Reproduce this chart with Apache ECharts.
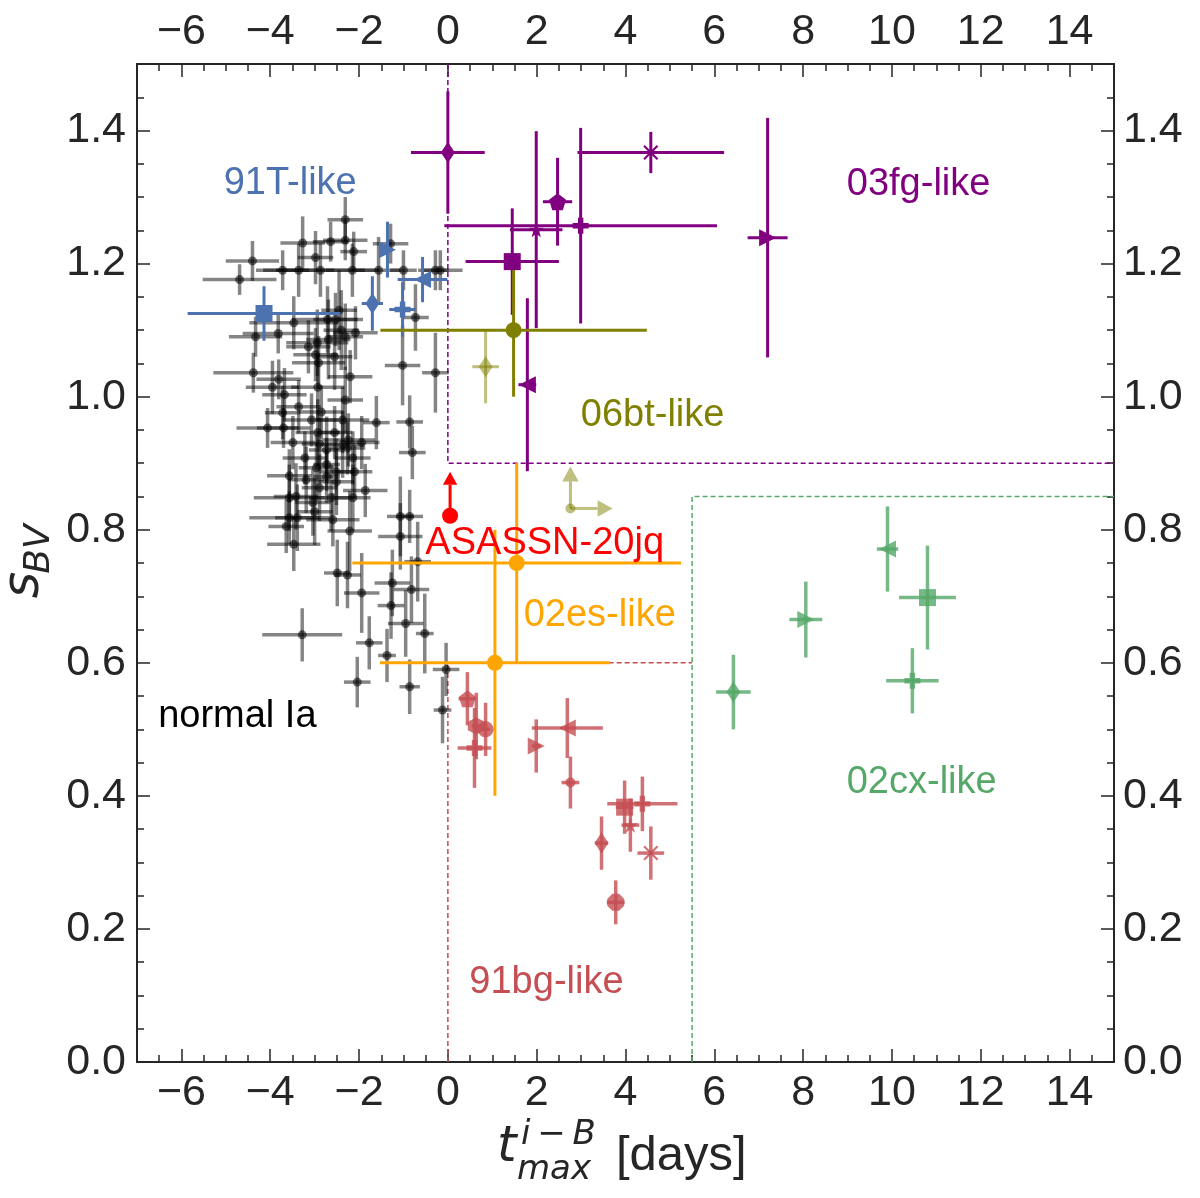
<!DOCTYPE html>
<html>
<head>
<meta charset="utf-8">
<script src="https://cdn.jsdelivr.net/npm/echarts@6/dist/echarts.min.js"></script>
<style>
html, body { margin: 0; padding: 0; background: #fff; }
#chart { width: 1200px; height: 1198px; }
</style>
</head>
<body>
<div id="chart"></div>
<script>
// each row: [t_max^{i-B}, s_BV, err_t, err_s]
var normalIa = [
  [-2.31, 1.266, 0.40, 0.034], [-2.64, 1.233, 0.40, 0.030], [-2.31, 1.235, 0.50, 0.030],
  [-3.27, 1.231, 0.50, 0.040], [-2.12, 1.218, 0.30, 0.030], [-2.98, 1.209, 0.40, 0.040],
  [-4.40, 1.204, 0.60, 0.030], [-3.72, 1.190, 0.60, 0.030], [-3.36, 1.190, 0.80, 0.040],
  [-2.87, 1.190, 1.00, 0.040], [-2.15, 1.190, 0.60, 0.040], [-1.56, 1.190, 0.50, 0.050],
  [-1.00, 1.190, 0.30, 0.030], [-0.28, 1.190, 0.30, 0.030], [-0.17, 1.190, 0.50, 0.030],
  [-4.69, 1.176, 0.83, 0.023], [-1.29, 1.230, 0.40, 0.030], [-0.73, 1.119, 0.30, 0.050],
  [-4.33, 1.090, 0.60, 0.030], [-3.82, 1.095, 0.80, 0.030], [-3.47, 1.111, 1.00, 0.040],
  [-2.71, 1.116, 0.80, 0.050], [-2.53, 1.116, 0.50, 0.040], [-2.45, 1.130, 0.40, 0.060],
  [-2.40, 1.100, 0.40, 0.060], [-2.08, 1.096, 0.50, 0.040], [-3.14, 1.075, 0.50, 0.040],
  [-2.94, 1.081, 0.70, 0.050], [-2.69, 1.086, 0.50, 0.060], [-2.31, 1.090, 0.40, 0.050],
  [-2.55, 1.060, 0.40, 0.050], [-2.98, 1.063, 0.50, 0.040], [-2.91, 1.051, 0.60, 0.040],
  [-4.38, 1.036, 0.90, 0.030], [-2.20, 1.030, 0.50, 0.040], [-1.02, 1.047, 0.40, 0.060],
  [-0.28, 1.036, 0.30, 0.060], [-3.81, 1.026, 0.50, 0.030], [-2.93, 1.014, 0.60, 0.050],
  [-3.95, 1.014, 0.60, 0.040], [-3.68, 1.003, 0.50, 0.040], [-2.31, 0.995, 0.40, 0.050],
  [-3.36, 0.985, 0.50, 0.040], [-2.85, 0.977, 0.50, 0.040], [-3.72, 0.976, 0.40, 0.040],
  [-4.06, 0.953, 0.70, 0.030], [-3.70, 0.953, 0.60, 0.030], [-3.07, 0.965, 0.60, 0.040],
  [-2.37, 0.965, 0.60, 0.050], [-1.61, 0.961, 0.30, 0.040], [-0.86, 0.962, 0.30, 0.040],
  [-2.93, 0.946, 0.50, 0.050], [-2.55, 0.946, 0.40, 0.040], [-3.49, 0.931, 0.50, 0.040],
  [-2.89, 0.929, 0.40, 0.040], [-2.37, 0.928, 0.50, 0.050], [-2.24, 0.935, 0.60, 0.040],
  [-1.94, 0.931, 0.40, 0.040], [-2.26, 0.923, 0.40, 0.040], [-2.73, 0.920, 0.40, 0.050],
  [-0.80, 0.916, 0.30, 0.040], [-3.22, 0.908, 0.50, 0.040], [-2.14, 0.908, 0.40, 0.040],
  [-2.96, 0.893, 0.40, 0.050], [-2.73, 0.898, 0.30, 0.040], [-2.51, 0.887, 0.40, 0.050],
  [-2.10, 0.887, 0.40, 0.040], [-3.57, 0.881, 0.50, 0.040], [-2.73, 0.880, 0.30, 0.040],
  [-3.19, 0.875, 0.40, 0.050], [-2.51, 0.872, 0.40, 0.050], [-1.86, 0.859, 0.50, 0.040],
  [-2.89, 0.863, 0.40, 0.050], [-3.57, 0.848, 0.80, 0.050], [-3.42, 0.850, 0.50, 0.050],
  [-2.63, 0.848, 0.50, 0.050], [-2.14, 0.848, 0.40, 0.050], [-3.04, 0.841, 0.40, 0.050],
  [-3.00, 0.827, 0.40, 0.050], [-3.57, 0.818, 0.90, 0.040], [-3.39, 0.818, 0.50, 0.050],
  [-2.59, 0.815, 0.60, 0.040], [-3.64, 0.805, 0.40, 0.040], [-2.21, 0.798, 0.50, 0.060],
  [-1.07, 0.820, 0.30, 0.060], [-1.07, 0.790, 0.50, 0.050], [-0.86, 0.820, 0.30, 0.040],
  [-3.47, 0.778, 0.60, 0.040], [-2.49, 0.735, 0.30, 0.050], [-2.26, 0.732, 0.30, 0.050],
  [-0.68, 0.752, 0.30, 0.060], [-1.94, 0.705, 0.40, 0.060], [-1.25, 0.720, 0.40, 0.050],
  [-0.82, 0.710, 0.40, 0.050], [-1.28, 0.686, 0.30, 0.050], [-0.95, 0.659, 0.40, 0.050],
  [-0.52, 0.644, 0.20, 0.060], [-3.28, 0.642, 0.90, 0.040], [-1.77, 0.630, 0.30, 0.040],
  [-1.37, 0.611, 0.20, 0.040], [-2.04, 0.571, 0.30, 0.038], [-0.86, 0.564, 0.23, 0.041],
  [-0.04, 0.590, 0.30, 0.040], [-0.12, 0.529, 0.20, 0.050]
];

var like91T = [
  [-4.14, 1.125, 1.72, 0.041], [-1.70, 1.140, 0.24, 0.041], [-1.02, 1.131, 0.30, 0.041],
  [-0.57, 1.176, 0.56, 0.034], [-1.36, 1.221, 0.10, 0.042]
];
var marks91T = ['s', 'd', 'P', '<', '>'];

var like03fg = [
  [0.00, 1.367, 0.83, 0.092], [4.57, 1.367, 1.65, 0.031], [2.47, 1.293, 0.33, 0.066],
  [2.99, 1.257, 3.07, 0.147], [1.99, 1.251, 0.59, 0.148], [1.45, 1.203, 1.05, 0.080],
  [7.20, 1.239, 0.45, 0.180], [1.79, 1.018, 0.20, 0.130]
];
var marks03fg = ['d', 'X', 'p', 'P', '*', 's', '>', '<'];

var like06bt = [[1.48, 1.100, 3.00, 0.100]];
var like06btFaint = [[0.85, 1.045, 0.30, 0.055]];
var limit06bt = [[2.76, 0.832]];

var like02es = [[1.55, 0.750, 3.70, 0.150], [1.06, 0.600, 2.59, 0.200]];

var asassn20jq = [[0.05, 0.821]];

var like91bg = [
  [0.44, 0.546, 0.20, 0.040], [0.64, 0.505, 0.10, 0.050], [0.60, 0.472, 0.38, 0.060],
  [0.85, 0.500, 0.10, 0.040], [1.99, 0.475, 0.10, 0.040], [2.69, 0.502, 0.80, 0.045],
  [2.76, 0.420, 0.20, 0.039], [3.46, 0.329, 0.15, 0.040], [3.98, 0.383, 0.20, 0.040],
  [4.38, 0.388, 0.79, 0.041], [4.11, 0.356, 0.20, 0.040], [4.57, 0.314, 0.30, 0.040],
  [3.78, 0.240, 0.20, 0.033]
];
var marks91bg = ['p', 'h', 'P', 'o', '>', '<', '.', 'd', 's', 'P', '*', 'X', '8'];

var like02cx = [
  [6.43, 0.556, 0.39, 0.056], [8.06, 0.665, 0.37, 0.057], [9.90, 0.771, 0.24, 0.064],
  [10.80, 0.698, 0.64, 0.078], [10.46, 0.573, 0.59, 0.049]
];
var marks02cx = ['d', '>', '<', 's', 'P'];

// region boundaries
var box03fg = [[0, 1.5], [0, 0.9], [15, 0.9]];
var box91bg = [[0, 0], [0, 0.6], [5.5, 0.6]];
var box02cx = [[5.5, 0], [5.5, 0.85], [15, 0.85]];

var xTicks = [-6, -4, -2, 0, 2, 4, 6, 8, 10, 12, 14];
var yTicks = [0, 0.2, 0.4, 0.6, 0.8, 1.0, 1.2, 1.4];

var annotations = [
  ['91T-like', -3.55, 1.320, '#4c72b0'],
  ['03fg-like', 10.60, 1.319, '#800080'],
  ['06bt-like', 4.61, 0.971, '#808000'],
  ['ASASSN-20jq', 2.18, 0.779, '#ff0000'],
  ['02es-like', 3.42, 0.671, '#ffa500'],
  ['normal Ia', -4.74, 0.520, '#000000'],
  ['02cx-like', 10.67, 0.420, '#55a868'],
  ['91bg-like', 2.22, 0.119, '#c44e52']
];

var FONT = '"Liberation Sans", Arial, sans-serif';
var INK = '#262626';

var SYM = {
  'o': 'circle',
  '.': 'circle',
  's': 'rect',
  'd': 'path://M5,0L8.5,5L5,10L1.5,5Z',
  '<': 'path://M0,5L10,0L10,10Z',
  '>': 'path://M10,5L0,0L0,10Z',
  'p': 'path://M5,0L10,3.8L8.1,10L1.9,10L0,3.8Z',
  'h': 'path://M5,0L9.33,2.5L9.33,7.5L5,10L0.67,7.5L0.67,2.5Z',
  'P': 'path://M3.3,0H6.7V3.3H10V6.7H6.7V10H3.3V6.7H0V3.3H3.3Z',
  'X': 'path://M1,0L5,4L9,0L10,1L6,5L10,9L9,10L5,6L1,10L0,9L4,5L0,1Z',
  '*': 'path://M5,0L6.2,3.6L10,3.6L7,5.9L8.1,9.5L5,7.3L1.9,9.5L3,5.9L0,3.6L3.8,3.6Z',
  '8': 'path://M3,0H7L10,3V7L7,10H3L0,7V3Z',
  'g': 'circle'
};
var SIZE = {
  'o': 16, '.': 10, 's': 17, 'd': [14, 21], '<': 17, '>': 17,
  'p': 17, 'h': 17, 'P': 16, 'X': 15, '*': 15, '8': 17, 'g': 9
};

function fmtX(v) { return v < 0 ? '\u2212' + Math.abs(v) : String(v); }
function fmtY(v) { return Number(v).toFixed(1); }

function minorAxis(pos, min, max, step) {
  return {
    type: 'value', position: pos, min: min, max: max, interval: step,
    axisLine: { show: true, onZero: false, lineStyle: { color: INK, width: 2 } },
    axisTick: { show: true, inside: true, length: 7, lineStyle: { color: INK, width: 1.5 } },
    axisLabel: { show: false },
    splitLine: { show: false }
  };
}
function majorAxis(pos, min, max, ticks, fmt, margin) {
  return {
    type: 'value', position: pos, min: min, max: max,
    axisLine: { show: false, onZero: false },
    axisTick: { show: true, inside: true, length: 13, customValues: ticks, lineStyle: { color: INK, width: 1.5 } },
    axisLabel: { show: true, customValues: ticks, formatter: fmt, fontSize: 43, color: INK, fontFamily: FONT, margin: margin },
    splitLine: { show: false }
  };
}

function errorBars(points, color, width, z) {
  return {
    type: 'custom', xAxisIndex: 0, yAxisIndex: 0, z: z, silent: true,
    data: points,
    renderItem: function (params, api) {
      var x = api.value(0), y = api.value(1), ex = api.value(2), ey = api.value(3);
      var a = api.coord([x - ex, y]), b = api.coord([x + ex, y]);
      var c = api.coord([x, y - ey]), d = api.coord([x, y + ey]);
      return {
        type: 'group', children: [
          { type: 'line', shape: { x1: a[0], y1: a[1], x2: b[0], y2: b[1] }, style: { stroke: color, lineWidth: width } },
          { type: 'line', shape: { x1: c[0], y1: c[1], x2: d[0], y2: d[1] }, style: { stroke: color, lineWidth: width } }
        ]
      };
    }
  };
}

function markers(points, marks, color, opacity, z) {
  return {
    type: 'scatter', xAxisIndex: 0, yAxisIndex: 0, z: z, silent: true,
    itemStyle: { color: color, opacity: opacity },
    data: points.map(function (p, i) {
      var m = marks ? marks[i] : 'g';
      return { value: [p[0], p[1]], symbol: SYM[m], symbolSize: SIZE[m] };
    })
  };
}

// lower limit arrows, lengths in data units
function arrows(points, dirs, color, opacity, head, z) {
  return {
    type: 'custom', xAxisIndex: 0, yAxisIndex: 0, z: z, silent: true,
    data: points,
    renderItem: function (params, api) {
      var x = api.value(0), y = api.value(1);
      var p0 = api.coord([x, y]);
      var kids = [];
      dirs.forEach(function (d) {
        var p1 = api.coord([x + d[0], y + d[1]]);
        var ang = Math.atan2(p1[1] - p0[1], p1[0] - p0[0]);
        var bx = p1[0] - head * Math.cos(ang), by = p1[1] - head * Math.sin(ang);
        var nx = -Math.sin(ang) * head * 0.55, ny = Math.cos(ang) * head * 0.55;
        kids.push({ type: 'line', shape: { x1: p0[0], y1: p0[1], x2: bx, y2: by }, style: { stroke: color, lineWidth: 3, opacity: opacity } });
        kids.push({ type: 'polygon', shape: { points: [[p1[0], p1[1]], [bx + nx, by + ny], [bx - nx, by - ny]] }, style: { fill: color, opacity: opacity } });
      });
      return { type: 'group', children: kids };
    }
  };
}

function boundary(points, color) {
  return {
    type: 'line', xAxisIndex: 0, yAxisIndex: 0, z: 1, silent: true,
    data: points, symbol: 'none',
    lineStyle: { color: color, width: 1.5, type: [5, 3] }
  };
}

var chart = echarts.init(document.getElementById('chart'), null, { renderer: 'canvas' });

var option = {
  animation: false,
  backgroundColor: '#ffffff',
  grid: { left: 137, right: 86, top: 64, bottom: 136, containLabel: false, outerBoundsMode: 'none' },
  xAxis: [
    minorAxis('bottom', -7, 15, 0.5),
    majorAxis('bottom', -7, 15, xTicks, fmtX, 10),
    minorAxis('top', -7, 15, 0.5),
    majorAxis('top', -7, 15, xTicks, fmtX, 10)
  ],
  yAxis: [
    minorAxis('left', 0, 1.5, 0.05),
    majorAxis('left', 0, 1.5, yTicks, fmtY, 11),
    minorAxis('right', 0, 1.5, 0.05),
    majorAxis('right', 0, 1.5, yTicks, fmtY, 9)
  ],
  series: [
    boundary(box03fg, '#800080'),
    boundary(box91bg, '#c44e52'),
    boundary(box02cx, '#55a868'),

    errorBars(normalIa, 'rgba(0,0,0,0.48)', 3.5, 2),
    markers(normalIa, null, '#000000', 0.55, 2),

    errorBars(like91T, '#4c72b0', 3, 3),
    markers(like91T, marks91T, '#4c72b0', 1, 4),

    errorBars(like03fg, '#800080', 3, 3),
    markers(like03fg, marks03fg, '#800080', 1, 4),

    errorBars(like06btFaint, 'rgba(128,128,0,0.5)', 3, 3),
    markers(like06btFaint, ['d'], 'rgba(128,128,0,0.5)', 1, 4),
    errorBars(like06bt, '#808000', 3, 3),
    markers(like06bt, ['o'], '#808000', 1, 4),
    arrows(limit06bt, [[0, 0.063], [0.95, 0]], '#808000', 0.5, 15, 4),
    markers(limit06bt, ['.'], 'rgba(128,128,0,0.5)', 1, 4),

    errorBars(like02es, '#ffa500', 3, 3),
    markers(like02es, ['o', 'o'], '#ffa500', 1, 4),

    errorBars(like91bg, 'rgba(196,78,82,0.8)', 3.5, 3),
    markers(like91bg, marks91bg, '#c44e52', 0.8, 4),

    errorBars(like02cx, 'rgba(85,168,104,0.8)', 3.5, 3),
    markers(like02cx, marks02cx, '#55a868', 0.8, 4),

    arrows(asassn20jq, [[0, 0.066]], '#ff0000', 1, 13, 6),
    markers(asassn20jq, ['o'], '#ff0000', 1, 6),

    {
      type: 'scatter', xAxisIndex: 0, yAxisIndex: 0, z: 10, silent: true,
      symbolSize: 1, itemStyle: { color: 'rgba(0,0,0,0)', opacity: 1 },
      data: annotations.map(function (a) {
        return {
          value: [a[1], a[2]],
          label: { show: true, position: 'inside', formatter: a[0], color: a[3], opacity: 1, fontSize: 38, fontFamily: FONT }
        };
      })
    }
  ],
  graphic: [
    { type: 'text', x: 497, y: 1148, silent: true,
      style: { text: 't', font: 'oblique 50px "DejaVu Sans"', fill: INK, align: 'left', verticalAlign: 'middle' } },
    { type: 'text', x: 521, y: 1135, silent: true,
      style: { text: 'i\u2009\u2212\u2009B', font: 'oblique 34px "DejaVu Sans"', fill: INK, align: 'left', verticalAlign: 'middle' } },
    { type: 'text', x: 517, y: 1170, silent: true,
      style: { text: 'max', font: 'oblique 34px "DejaVu Sans"', fill: INK, align: 'left', verticalAlign: 'middle' } },
    { type: 'text', x: 616, y: 1156, silent: true,
      style: { text: '[days]', font: '49px "Liberation Sans"', fill: INK, align: 'left', verticalAlign: 'middle' } },
    { type: 'text', x: 25, y: 585, rotation: Math.PI / 2, silent: true,
      style: { text: 's', font: 'oblique 51px "DejaVu Sans"', fill: INK, align: 'center', verticalAlign: 'middle' } },
    { type: 'text', x: 40, y: 549, rotation: Math.PI / 2, silent: true,
      style: { text: 'BV', font: 'oblique 36px "DejaVu Sans"', fill: INK, align: 'center', verticalAlign: 'middle' } }
  ]
};

chart.setOption(option);
</script>
</body>
</html>
